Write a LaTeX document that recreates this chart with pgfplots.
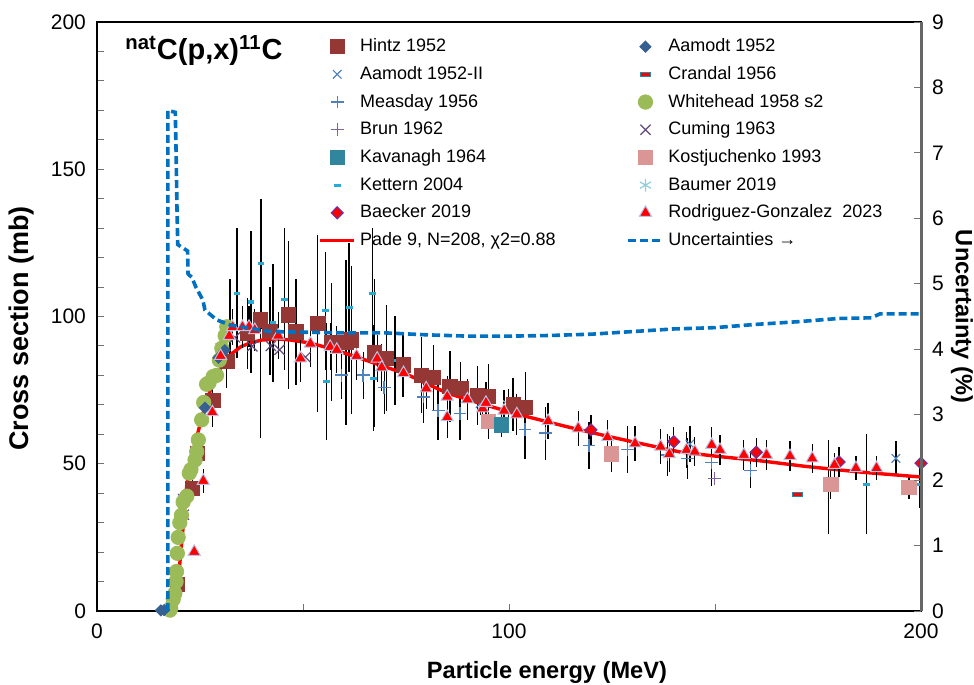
\documentclass[border=0pt]{standalone}
\usepackage{fontspec}
\setmainfont{Liberation Sans}
\usepackage{pgfplots}
\pgfplotsset{compat=1.18}
\definecolor{hintz}{RGB}{149,55,53}
\definecolor{aam}{RGB}{54,96,146}
\definecolor{aamII}{RGB}{79,129,189}
\definecolor{meas}{RGB}{79,129,189}
\definecolor{whg}{RGB}{155,187,89}
\definecolor{brun}{RGB}{128,100,162}
\definecolor{cum}{RGB}{96,74,123}
\definecolor{kav}{RGB}{49,133,156}
\definecolor{kost}{RGB}{217,150,148}
\definecolor{kett}{RGB}{40,170,215}
\definecolor{baum}{RGB}{146,205,220}
\definecolor{baeedge}{RGB}{112,48,160}
\definecolor{rgedge}{RGB}{185,195,230}
\definecolor{unc}{RGB}{0,112,192}
\pgfplotsset{
 errb/.style={error bars/y dir=both, error bars/y explicit, error bars/error mark=none,
   error bars/error bar style={black, line width=0.65pt, solid}},
 hintzst/.style={only marks, mark=square*, color=hintz, mark size=3.6pt},
 aamst/.style={only marks, mark=diamond*, color=aam, mark size=2.8pt, mark options={xscale=1.33}},
 aamIIst/.style={only marks, mark=x, color=aamII, mark size=3pt, mark options={line width=0.6pt}},
 crast/.style={only marks, mark=square*, color=red, mark size=2.4pt, mark options={fill=red, draw=kav, yscale=0.4, line width=0.5pt}},
 measst/.style={only marks, mark=+, color=meas, mark size=3.2pt, mark options={line width=0.7pt}},
 whst/.style={only marks, mark=*, color=whg, mark size=3.6pt},
 brunst/.style={only marks, mark=+, color=brun, mark size=3.2pt, mark options={line width=0.7pt}},
 cumst/.style={only marks, mark=x, color=cum, mark size=3.6pt, mark options={line width=0.6pt}},
 kavst/.style={only marks, mark=square*, color=kav, mark size=3.6pt},
 kostst/.style={only marks, mark=square*, color=kost, mark size=3.6pt},
 kettst/.style={only marks, mark=-, color=kett, mark size=1.7pt, mark options={line width=1.6pt}},
 baumst/.style={only marks, mark=asterisk, color=baum, mark size=3.2pt, mark options={line width=0.6pt}},
 baest/.style={only marks, mark=diamond*, color=red, mark size=3.0pt, mark options={fill=red, draw=baeedge, line width=0.6pt, xscale=1.33}},
 rgst/.style={only marks, mark=triangle*, color=red, mark size=3.5pt, mark options={fill=red, draw=rgedge, line width=0.5pt}},
}
\begin{document}
\begin{tikzpicture}
\path[use as bounding box] (-48.5pt,-37pt) rectangle (438.5pt,305.5pt);
\begin{axis}[
  scale only axis, width=412pt, height=294.5pt,
  xmin=0, xmax=200, ymin=0, ymax=200,
  xtick={0,100,200}, minor xtick={50,150},
  ytick={0,50,...,200}, minor ytick={10,20,...,190},
  tick pos=left, tick align=inside,
  major tick length=3.5pt, minor tick length=3.5pt,
  tick style={black!55, line width=0.5pt},
  axis line style={line width=1.3pt},
  /pgf/number format/assume math mode=true,
  tick label style={font=\fontsize{10.5}{12}\selectfont},
  xticklabel style={yshift=-3pt},
  yticklabel style={xshift=-2pt},
  every axis x label/.style={at={(rel axis cs:0.546,0)}, yshift=-30.5pt, anchor=center},
  every axis y label/.style={at={(rel axis cs:0,0.48)}, xshift=-37.5pt, rotate=90, anchor=center},
  label style={font=\bfseries\fontsize{11.8}{14}\selectfont},
  ylabel style={font=\bfseries\fontsize{13.5}{16}\selectfont},
  xlabel={Particle energy (MeV)},
  ylabel={Cross section (mb)},
  legend columns=2,
  legend cell align=left,
  legend style={at={(0.261,0.986)}, anchor=north west, draw=none, fill=none,
    font=\fontsize{9}{11}\selectfont, row sep=1.85pt,
    nodes={inner sep=1.5pt, text height=7pt, text depth=2pt},
    /tikz/every odd column/.append style={column sep=0.5pt},
    /tikz/every even column/.append style={column sep=34pt}},
]
% Kettern 2004
\addplot[kettst, errb, forget plot] table[x=x,y=y,y error=e]{
x y e
19.7 8.6 1
32.3 97.8 15
34.0 107.9 22
37.4 104.9 24
39.8 117.9 22
42.7 97.9 20
45.5 105.9 24
55.4 102.0 20
55.7 77.9 20
61.2 103.0 22
66.8 107.9 22
67.1 79.0 18
72.3 85.1 15
177.5 42.0 16
186.7 43.0 17
199.6 43.0 8
};
% Measday 1956
\addplot[measst, errb, forget plot] table[x=x,y=y,y error=e]{
x y e
59.4 80.1 8
64.6 80.1 8
69.7 75.8 9
79.2 72.7 9
82.8 68.1 10
88.1 67.0 9
103.9 61.7 10
108.8 60.4 9
119.4 56.2 8
128.8 54.8 8
138.5 53.0 7
143.3 51.8 7
149.2 50.5 8
158.6 47.8 6
};
% Brun 1962
\addplot[brunst, forget plot] coordinates {(149.9,45.0)};
% Aamodt 1952-II
\addplot[aamIIst, errb, forget plot] table[x=x,y=y,y error=e]{
x y e
93.0 70.4 4
143.9 56.7 6
193.9 51.8 6
};
% Baumer 2019
\addplot[baumst, errb, forget plot] table[x=x,y=y,y error=e]{
x y e
99.9 70.3 5
};
% Cuming 1963
\addplot[cumst, forget plot] coordinates {(20.9,38) (21.1,32.7) (30.1,89.2) (33.5,92.9) (37.7,89.9) (42.2,90) (44.3,88.7) (50.6,86.2)};
% Hintz 1952
\addplot[hintzst, errb, forget plot] table[x=x,y=y,y error=e]{
x y e
19.5 9.1 2
23.2 41.7 4
24.4 53.5 5
28.1 71.6 7
31.5 84.7 9
36.5 94.2 12
39.6 98.8 40
42.0 95.0 15
46.4 100.5 25
48.3 94.8 18
53.6 97.6 30
57.0 91.3 20
60.4 91.3 28
61.8 92.0 25
67.3 87.6 25
70.3 85.8 18
74.3 83.6 11
78.8 80.1 13
81.6 79.3 11
85.7 76.2 12
88.3 75.6 9
92.3 73.3 10
95.0 72.8 11
101.0 70.0 9
104.0 69.2 12
};
% Kostjuchenko 1993
\addplot[kostst, errb, forget plot] table[x=x,y=y,y error=e]{
x y e
95.0 64.3 6
124.9 53.3 6
178.1 43.0 5
197.1 42.0 4
};
% Kavanagh 1964
\addplot[kavst, errb, forget plot] table[x=x,y=y,y error=e]{
x y e
98.1 63.2 4
};
% Pade fit
\addplot[red, line width=1.7pt, no marks, forget plot] coordinates {
(17.6,0) (18.5,4) (19.7,10) (20.8,27) (21.8,43) (23,52) (24.2,59) (25.5,66)
(26.7,71.6) (28,77) (29.4,81) (30.8,84.3) (32.3,87) (35,89.8) (37.1,91) (40,92)
(43.7,92.4) (47,92) (51.7,91) (57,89) (63.1,86.2) (68.7,83.5) (75,80.5) (80,77.2)
(85,74) (93,70.5) (101,67.2) (110,64) (117.2,61.5) (125,59) (133.5,56.4)
(141.5,54) (150,52.6) (161,51.0) (172,49.1) (185,47.2) (200,45.5)};
% Whitehead 1958 s2
\addplot[whst, forget plot] coordinates {
(17.7,0.3) (17.9,1.0) (18.5,4) (18.9,6) (19.2,10) (19.3,13.4) (19.5,19.6)
(19.7,25) (20.1,30) (20.5,32.5) (20.9,37) (21.8,39) (22.4,46.8) (22.8,48)
(23.8,51.3) (24.2,54.1) (24.6,58.1) (25.4,64.9) (25.9,70.8) (26.6,77)
(27.2,77.5) (28.2,79.6) (29.0,80) (29.7,85.2) (30.3,89.2) (31.1,93.5) (31.5,96.5)};
% Aamodt 1952
\addplot[aamst, forget plot] coordinates {(15.5,0.2) (16.3,0.3) (26.2,69) (29.5,86) (31.0,88.5)};
% Crandal 1956
\addplot[crast, forget plot] coordinates {(170,39.6)};
% Baecker 2019
\addplot[baest, errb, forget plot] table[x=x,y=y,y error=e]{
x y e
119.9 61.5 5
140.0 57.5 5
160.0 53.9 5
180.1 50.6 5
200.0 50.2 5
};
% Rodriguez-Gonzalez 2023
\addplot[rgst, errb, forget plot] table[x=x,y=y,y error=e]{
x y e
23.6 20.1 1
25.8 44.2 4
28.0 67.5 5
30.0 86.6 6
32.1 93.4 6
32.9 96.4 6
35.3 96.4 7
36.9 96.5 7
38.3 95.4 7
44.0 93.5 8
49.4 85.8 8
51.8 90.8 8
56.6 89.7 8
58.2 88.7 8
63.0 86.6 8
68.0 85.7 8
69.1 82.7 8
74.4 80.8 7
79.9 75.6 7
85.0 72.8 7
85.0 65.8 7
89.9 71.9 7
93.6 68.8 7
94.4 70.7 7
98.8 68.0 7
101.9 66.8 7
109.5 64.5 6
116.8 62.0 6
123.9 59.0 6
130.6 56.9 6
136.8 55.8 6
138.9 53.3 6
143.1 54.7 6
145.1 54.1 5
149.2 56.4 6
151.2 54.7 5
157.0 53.0 5
162.5 53.0 5
168.2 52.6 5
173.6 51.8 5
179.0 49.6 4
184.2 48.5 4
189.2 48.5 4
};
% legend
\addlegendimage{hintzst}\addlegendentry{Hintz 1952}
\addlegendimage{aamst}\addlegendentry{Aamodt 1952}
\addlegendimage{aamIIst}\addlegendentry{Aamodt 1952-II}
\addlegendimage{crast}\addlegendentry{Crandal 1956}
\addlegendimage{measst}\addlegendentry{Measday 1956}
\addlegendimage{whst}\addlegendentry{Whitehead 1958 s2}
\addlegendimage{brunst}\addlegendentry{Brun 1962}
\addlegendimage{cumst}\addlegendentry{Cuming 1963}
\addlegendimage{kavst}\addlegendentry{Kavanagh 1964}
\addlegendimage{kostst}\addlegendentry{Kostjuchenko 1993}
\addlegendimage{kettst}\addlegendentry{Kettern 2004}
\addlegendimage{baumst}\addlegendentry{Baumer 2019}
\addlegendimage{baest}\addlegendentry{Baecker 2019}
\addlegendimage{rgst}\addlegendentry{Rodriguez-Gonzalez\ \ 2023}
\addlegendimage{red, line width=1.7pt}\addlegendentry{Pade 9, N=208, χ2=0.88}
\addlegendimage{unc, line width=1.8pt, dash pattern=on 4pt off 2pt}\addlegendentry{Uncertainties →}
\node[anchor=west, font=\bfseries\fontsize{14.5}{17}\selectfont] at (rel axis cs:0.026,0.952) {\textsuperscript{nat}C(p,x)\textsuperscript{11}C};
\end{axis}
\begin{axis}[
  scale only axis, width=412pt, height=294.5pt,
  xmin=0, xmax=200, ymin=0, ymax=9,
  axis x line=none,
  axis y line*=right,
  ytick={0,1,...,9},
  tick align=inside,
  major tick length=3.5pt,
  tick style={black!55, line width=0.5pt},
  y axis line style={line width=1.5pt, black!60},
  /pgf/number format/assume math mode=true,
  tick label style={font=\fontsize{10.5}{12}\selectfont},
  yticklabel style={xshift=2pt},
  every axis y label/.style={at={(rel axis cs:1,0.5)}, xshift=20.5pt, rotate=-90, anchor=center},
  label style={font=\bfseries\fontsize{11.8}{14}\selectfont},
  ylabel={Uncertainty (\%)},
]
\addplot[unc, line width=1.8pt, dash pattern=on 4pt off 2pt, no marks] coordinates {
(17.2,0) (17.2,7.65) (19.0,7.62) (19.2,7.0) (19.4,6.2) (19.6,5.6) (22.0,5.5)
(22.1,5.15) (23,5.1) (24,4.95) (25.7,4.75) (26.2,4.6) (29,4.45) (32.3,4.37)
(37,4.32) (42,4.27) (50,4.26) (60,4.25) (70,4.25) (80,4.22) (90,4.2) (100,4.2)
(110,4.21) (120,4.23) (130,4.27) (140,4.31) (150,4.33) (160,4.38) (170,4.42)
(180,4.47) (188,4.48) (190,4.54) (200,4.54)};
\end{axis}
\end{tikzpicture}
\end{document}
